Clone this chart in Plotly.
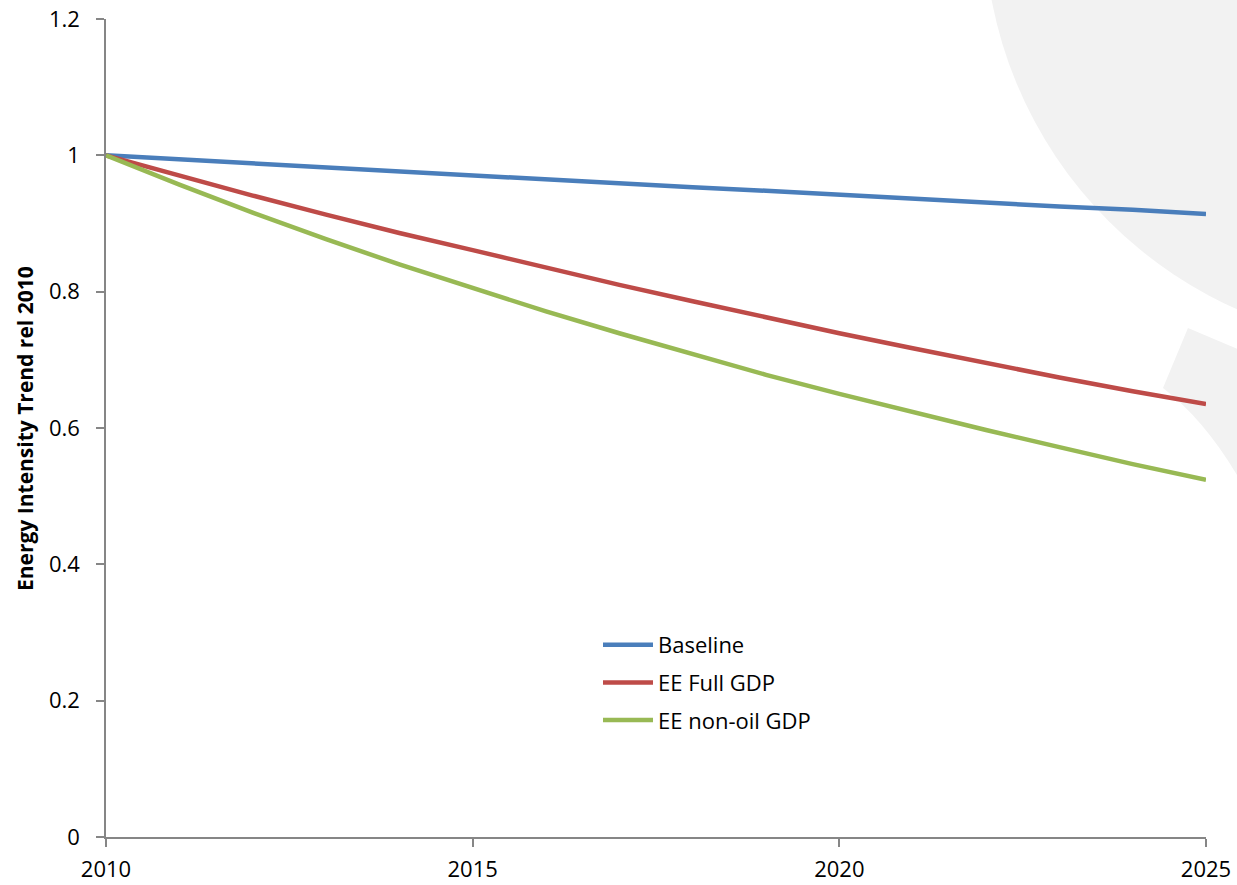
import plotly.graph_objects as go

years = list(range(2010, 2026))
baseline = [1.000, 0.994, 0.988, 0.982, 0.977, 0.971, 0.965, 0.959, 0.953, 0.948,
            0.942, 0.936, 0.931, 0.925, 0.920, 0.914]
ee_full = [1.000, 0.970, 0.941, 0.913, 0.886, 0.861, 0.835, 0.810, 0.786, 0.762,
           0.739, 0.717, 0.695, 0.674, 0.654, 0.635]
ee_nonoil = [1.000, 0.957, 0.916, 0.877, 0.840, 0.805, 0.771, 0.739, 0.708, 0.678,
             0.650, 0.623, 0.597, 0.572, 0.547, 0.524]
series_names = ["Baseline", "EE Full GDP", "EE non-oil GDP"]
colors = ["#4a7ebb", "#be4b48", "#98b954"]
x_ticks = [2010, 2015, 2020, 2025]
y_ticks = [0, 0.2, 0.4, 0.6, 0.8, 1, 1.2]
y_tick_text = ["0", "0.2", "0.4", "0.6", "0.8", "1", "1.2"]
y_title = "Energy Intensity Trend rel 2010"

W, H = 1237, 885
L, R, T, B = 106, 31, 19, 48
pw, ph = W - L - R, H - T - B

def px(xp):
    return (xp - L) / pw

def py(yp):
    return (H - B - yp) / ph

fig = go.Figure()
for name, vals, c in zip(series_names, [baseline, ee_full, ee_nonoil], colors):
    fig.add_trace(go.Scatter(x=years, y=vals, mode="lines", name=name,
                             legendgroup=name,
                             line=dict(color=c, width=4.5)))

# background watermark shapes
cx, cy, r = 1410, -80, 426
fig.add_shape(type="circle", xref="paper", yref="paper",
              x0=px(cx - r), x1=px(cx + r), y0=py(cy + r), y1=py(cy - r),
              fillcolor="#f2f2f2", line=dict(width=0), layer="below")
path = "M {:.4f},{:.4f} L {:.4f},{:.4f} L {:.4f},{:.4f} Q {:.4f},{:.4f} {:.4f},{:.4f} Z".format(
    px(1188), py(328), px(1240), py(350), px(1240), py(480),
    px(1205), py(420), px(1163), py(388))
fig.add_shape(type="path", xref="paper", yref="paper", path=path,
              fillcolor="#f2f2f2", line=dict(width=0), layer="below")

FAM = "'Open Sans', Lato, sans-serif"
axis_font = dict(family=FAM, size=22, color="#000000")

fig.add_annotation(text="<b>" + y_title + "</b>", xref="paper", yref="paper",
                   x=px(25), y=py(429), xanchor="center", yanchor="middle",
                   textangle=-90, showarrow=False,
                   font=dict(family=FAM, size=21, color="#000000"))

fig.update_layout(
    width=W, height=H,
    margin=dict(l=L, r=R, t=T, b=B),
    paper_bgcolor="white", plot_bgcolor="rgba(0,0,0,0)",
    font=axis_font,
    showlegend=True,
    legend=dict(x=px(598), y=py(624), xanchor="left", yanchor="top",
                bgcolor="rgba(0,0,0,0)", font=dict(family=FAM, size=22),
                tracegroupgap=6, itemwidth=50),
    xaxis=dict(range=[2010, 2025], tickvals=x_ticks, ticktext=[str(v) for v in x_ticks],
               showgrid=False, zeroline=False, showline=True, linecolor="#868686",
               linewidth=1.5, ticks="outside", ticklen=8, tickcolor="#868686",
               tickwidth=1.5, tickfont=axis_font, automargin=False,
               ticklabelstandoff=4),
    yaxis=dict(range=[0, 1.2], tickvals=y_ticks, ticktext=y_tick_text,
               showgrid=False, zeroline=False, showline=True, linecolor="#868686",
               linewidth=1.5, ticks="outside", ticklen=8, tickcolor="#868686",
               tickwidth=1.5, tickfont=axis_font, automargin=False,
               ticklabelstandoff=12),
)
fig.write_html("out.html")
